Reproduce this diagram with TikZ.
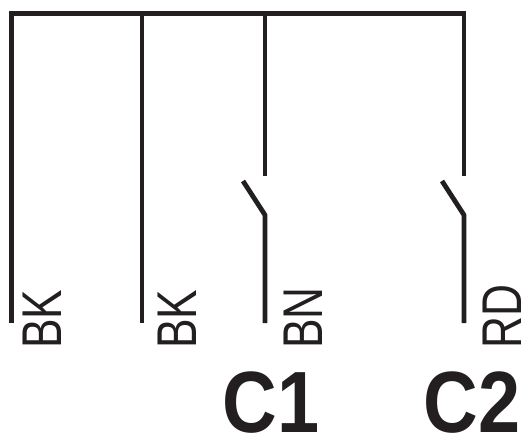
\documentclass[tikz,border=0pt]{standalone}
\usepackage{fontspec}
\usepackage{graphicx}
\setmainfont{Liberation Sans}
\definecolor{ink}{HTML}{231F20}
\newcommand{\thinlab}[1]{\scalebox{0.79}[1]{#1}}
\newcommand{\widelab}[1]{\scalebox{0.87}[1]{#1}}
\tikzset{wire/.style={line width=4.8pt,color=ink,line cap=butt},
 vlabel/.style={rotate=90,anchor=south west,inner sep=0pt,font=\fontsize{56}{56}\selectfont,text=ink},
 bigl/.style={anchor=base,inner sep=0pt,font=\fontsize{87}{87}\selectfont\bfseries,text=ink}}
\begin{document}
\begin{tikzpicture}[x=1pt,y=-1pt]
\useasboundingbox (0,0) rectangle (527,434);
\coordinate (tl) at (11.5,13.3); \coordinate (tr) at (464,13.3);
\coordinate (a) at (11.5,323); \coordinate (b) at (142,323); \coordinate (c) at (265,323); \coordinate (d) at (464,323);
\coordinate (bt) at (142,13.3); \coordinate (ct) at (265,13.3);
\coordinate (c1) at (265,176); \coordinate (c2) at (265,215); \coordinate (c3) at (243,181);
\coordinate (d1) at (464,176); \coordinate (d2) at (464,215); \coordinate (d3) at (442,181);
\draw[wire,line join=miter] (a) -- (tl) -- (tr) -- (d1);
\draw[wire] (bt) -- (b);
\draw[wire] (ct) -- (c1);
\draw[wire,line join=round] (c3) -- (c2) -- (c);
\draw[wire,line join=round] (d3) -- (d2) -- (d);
\node[vlabel] (l1) at (62,349) {\thinlab{BK}};
\node[vlabel] (l2) at (197,349) {\thinlab{BK}};
\node[vlabel] (l3) at (323,349) {\thinlab{BN}};
\node[vlabel] (l4) at (522,349) {\thinlab{RD}};
\node[bigl] (m1) at (271,432.5) {\widelab{C1}};
\node[bigl] (m2) at (472,432.5) {\widelab{C2}};
\end{tikzpicture}
\end{document}
